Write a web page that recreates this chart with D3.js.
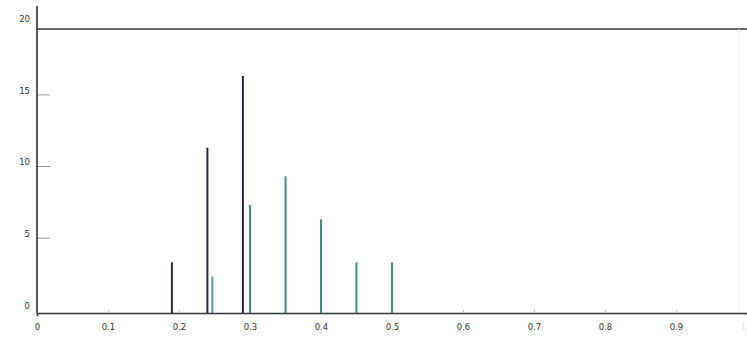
<!DOCTYPE html>
<html><head><meta charset="utf-8">
<script src="https://cdn.jsdelivr.net/npm/d3@7"></script>
<style>body{margin:0;background:#fff}svg{display:block}text{font-family:"DejaVu Sans",sans-serif}</style>
</head><body><svg id="c" width="747" height="337"></svg>
<script>
const xTicks = [0,0.1,0.2,0.3,0.4,0.5,0.6,0.7,0.8,0.9,1];
const yTicks = [0,5,10,15,20];
const darkX = [0.19,0.24,0.29];
const darkV = [3,11,16];
const tealX = [0.30,0.35,0.40,0.45,0.50];
const tealV = [7,9,6,3,3];
const blueX = [0.247];
const blueV = [2];

const svg = d3.select("#c");
const left = 37, bottom = 313, topLine = 29;
const x = d3.scaleLinear().domain([0,1]).range([37,747]);
const y = d3.scaleLinear().domain([0,20]).range([305.3,18.7]);

// frame
svg.append("line").attr("x1",left).attr("x2",747).attr("y1",topLine).attr("y2",topLine).attr("stroke","#333").attr("stroke-width",1.6);
svg.append("line").attr("x1",739).attr("x2",739).attr("y1",topLine).attr("y2",bottom).attr("stroke","#f0f0f0").attr("stroke-width",1);

// x axis
const xa = svg.append("g").attr("transform",`translate(0,${bottom})`)
  .call(d3.axisBottom(x).tickValues(xTicks).tickSize(3).tickFormat(d=>d===0?"0":d===1?"1":d3.format(".1f")(d)));
xa.select(".domain").attr("stroke","#333").attr("stroke-width",1.6);
xa.selectAll(".tick line").attr("stroke","#bbb").attr("y1",-3).attr("y2",0);
xa.selectAll("text").attr("font-size",8.5).attr("fill","#333").attr("dy","1.3em");
xa.selectAll(".tick").filter(d=>d===1).select("text").attr("fill","#ddd").attr("dx",-4);

// y axis
const ya = svg.append("g").attr("transform",`translate(${left},0)`)
  .call(d3.axisLeft(y).tickValues(yTicks).tickSize(0).tickPadding(7));
ya.select(".domain").remove();
svg.append("line").attr("x1",left).attr("x2",left).attr("y1",6).attr("y2",bottom).attr("stroke","#333").attr("stroke-width",1.6);
ya.selectAll("text").attr("font-size",8.5).attr("fill","#333");
ya.selectAll(".tick").filter(d=>d>0&&d<20).append("line").attr("x1",0).attr("x2",13).attr("y1",4).attr("y2",4).attr("stroke","#999");

function bars(xs, vs, color){
  svg.append("g").selectAll("line").data(xs.map((d,i)=>({x:d,v:vs[i]}))).join("line")
    .attr("x1",d=>x(d.x)).attr("x2",d=>x(d.x))
    .attr("y1",bottom).attr("y2",d=>y(d.v))
    .attr("stroke",color).attr("stroke-width",2);
}
bars(darkX, darkV, "#24244e");
bars(tealX, tealV, "#3f8c8c");
bars(blueX, blueV, "#5a90b4");
</script></body></html>
